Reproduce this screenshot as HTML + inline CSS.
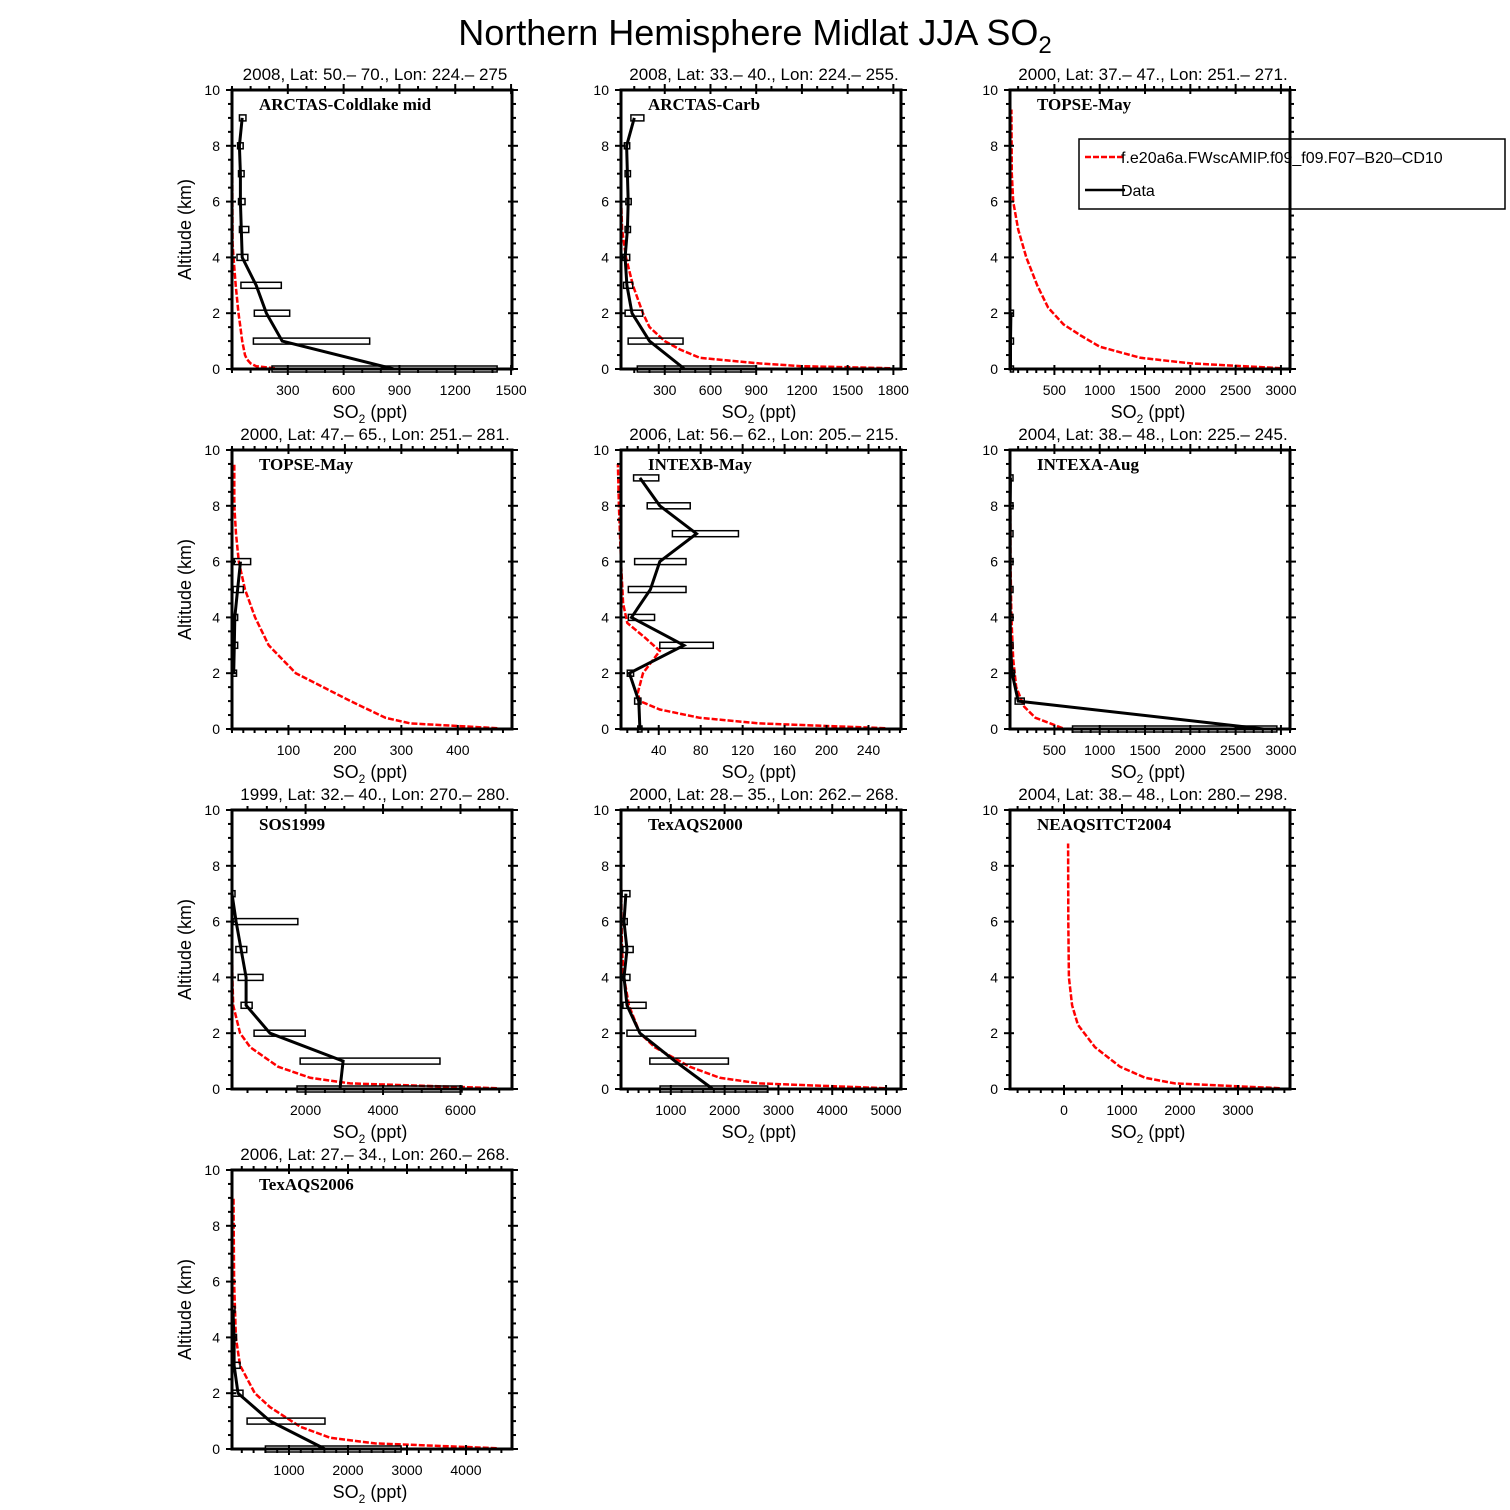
<!DOCTYPE html>
<html><head><meta charset="utf-8"><style>
html,body{margin:0;padding:0;background:#fff;}
svg{display:block;font-family:"Liberation Sans",sans-serif;}
</style></head><body>
<svg id="fig" width="1510" height="1510" viewBox="0 0 1510 1510" xmlns="http://www.w3.org/2000/svg">
<text x="755" y="45" text-anchor="middle" font-size="36" font-weight="300">Northern Hemisphere Midlat JJA SO<tspan font-size="24" dy="8">2</tspan></text>
</svg>
<script>
// Shared altitude levels for observations
const obsAlt = [0,1,2,3,4,5,6,7,8,9];
// Panel 1
const p1Mean=[870,270,185,130,55,50,45,45,40,55];
const p1Lo=[215,115,120,48,27,40,35,35,30,40];
const p1Hi=[1425,740,310,265,85,90,70,65,60,75];
const p1ModAlt=[0.03,0.1,0.2,0.35,0.5,1,1.5,2,3,4,4.5,6,8,9.5];
const p1Mod=[230,130,100,80,70,55,45,35,20,8,3,2,1,1];
// Panel 2
const p2Mean=[430,200,85,52,40,55,60,55,50,100];
const p2Lo=[120,60,40,30,25,40,45,40,35,78];
const p2Hi=[900,420,155,90,70,75,80,75,70,163];
const p2ModAlt=[0.03,0.1,0.2,0.4,0.7,1,1.5,2,3,4,5,6,8,9.5];
const p2Mod=[1780,1200,920,530,400,300,200,157,91,46,20,14,12,12];
// Panel 3
const p3ObsAlt=[0,1,2];
const p3Mean=[15,15,20];
const p3Lo=[15,15,15];
const p3Hi=[15,15,30];
const p3ModAlt=[0.03,0.2,0.4,0.8,1.2,1.6,2.2,3,4,5,6,7,9.3];
const p3Mod=[3000,2010,1450,1000,790,600,430,310,190,100,45,30,25];
// Panel 4
const p4ObsAlt=[2,3,4,5,6];
const p4Mean=[3,4,5,10,15];
const p4Lo=[1,1,1,2,4];
const p4Hi=[8,10,10,20,33];
const p4ModAlt=[0.03,0.2,0.4,1,2,3,4,5,6,7,8,9.5];
const p4Mod=[470,316,272,210,113,65,41,23,12,7,4,4];
// Panel 5
const p5Mean=[22,21,12,64,14,32,41,76,41,22];
const p5Lo=[20,17,10,41,11,11,17,53,29,16];
const p5Hi=[24,23,16,92,36,66,66,116,70,40];
const p5ModAlt=[0.03,0.2,0.4,0.7,1,1.3,2,2.8,3.3,3.8,4.5,6,8,9.5];
const p5Mod=[256,136,79,41,22,20,25,41,26,10,6,4,2,1];
// Panel 6
const p6Mean=[2810,100,33,15,12,12,12,12,12,15];
const p6Lo=[700,67,10,10,8,8,8,8,8,10];
const p6Hi=[2955,167,60,20,16,16,16,16,16,20];
const p6ModAlt=[0.03,0.2,0.4,0.8,1.5,2.5,4,6,9];
const p6Mod=[590,455,290,167,78,45,25,15,12];
// Panel 7
const p7ObsAlt=[0,1,2,3,4,5,6,7];
const p7Mean=[2890,2970,1080,465,465,335,206,100];
const p7Lo=[1780,1860,670,335,260,200,130,100];
const p7Hi=[6040,5470,1990,620,900,480,1800,100];
const p7ModAlt=[0.03,0.2,0.4,0.8,1.5,2,3,4,6,9];
const p7Mod=[6940,3150,2120,1290,570,310,130,110,100,100];
// Panel 8
const p8ObsAlt=[0,1,2,3,4,5,6,7];
const p8Mean=[1780,1075,425,185,130,185,130,165];
const p8Lo=[800,610,185,110,95,110,75,95];
const p8Hi=[2800,2070,1460,540,240,300,190,240];
const p8ModAlt=[0.03,0.2,0.4,0.8,1.5,2,3,4,5,7,9];
const p8Mod=[4980,2650,1910,1350,700,425,220,130,90,80,75];
// Panel 9
const p9ModAlt=[0.03,0.2,0.4,0.8,1.5,2.3,3,4,6,8.8];
const p9Mod=[3720,1910,1400,965,535,240,140,85,75,70];
// Panel 10
const p10ObsAlt=[0,1,2,3,4,5];
const p10Mean=[1610,680,135,70,70,50];
const p10Lo=[600,290,35,35,40,30];
const p10Hi=[2900,1610,220,170,110,70];
const p10ModAlt=[0.03,0.2,0.4,0.8,1.5,2,3,4,6,9];
const p10Mod=[4520,2460,1700,1190,680,420,170,100,70,60];
// Tick labels
const p1Ticks=[300,600,900,1200,1500];
const p2Ticks=[300,600,900,1200,1500,1800];
const p3Ticks=[500,1000,1500,2000,2500,3000];
const p4Ticks=[100,200,300,400];
const p5Ticks=[40,80,120,160,200,240];
const p6Ticks=[500,1000,1500,2000,2500,3000];
const p7Ticks=[2000,4000,6000];
const p8Ticks=[1000,2000,3000,4000,5000];
const p9Ticks=[0,1000,2000,3000];
const p10Ticks=[1000,2000,3000,4000];
const yTicks=[0,2,4,6,8,10];

const NS="http://www.w3.org/2000/svg";
const svg=document.getElementById('fig');
function mk(tag,attrs,parent){const e=document.createElementNS(NS,tag);for(const k in attrs)e.setAttribute(k,attrs[k]);(parent||svg).appendChild(e);return e;}

const panels=[
 {col:0,row:0,dom:[0,1505],minor:100,title:"2008, Lat:  50.\u2013 70., Lon: 224.\u2013 275",name:"ARCTAS-Coldlake mid",alt:obsAlt,mean:p1Mean,lo:p1Lo,hi:p1Hi,malt:p1ModAlt,mod:p1Mod,ticks:p1Ticks},
 {col:1,row:0,dom:[13,1850],minor:100,title:"2008, Lat:  33.\u2013 40., Lon: 224.\u2013 255.",name:"ARCTAS-Carb",alt:obsAlt,mean:p2Mean,lo:p2Lo,hi:p2Hi,malt:p2ModAlt,mod:p2Mod,ticks:p2Ticks},
 {col:2,row:0,dom:[10,3100],minor:100,title:"2000, Lat: 37.\u2013 47., Lon: 251.\u2013 271.",name:"TOPSE-May",alt:p3ObsAlt,mean:p3Mean,lo:p3Lo,hi:p3Hi,malt:p3ModAlt,mod:p3Mod,ticks:p3Ticks,legend:true},
 {col:0,row:1,dom:[0,496],minor:20,title:"2000, Lat: 47.\u2013 65., Lon: 251.\u2013 281.",name:"TOPSE-May",alt:p4ObsAlt,mean:p4Mean,lo:p4Lo,hi:p4Hi,malt:p4ModAlt,mod:p4Mod,ticks:p4Ticks},
 {col:1,row:1,dom:[4,271],minor:10,title:"2006, Lat: 56.\u2013 62., Lon: 205.\u2013 215.",name:"INTEXB-May",alt:obsAlt,mean:p5Mean,lo:p5Lo,hi:p5Hi,malt:p5ModAlt,mod:p5Mod,ticks:p5Ticks},
 {col:2,row:1,dom:[10,3100],minor:100,title:"2004, Lat: 38.\u2013 48., Lon: 225.\u2013 245.",name:"INTEXA-Aug",alt:obsAlt,mean:p6Mean,lo:p6Lo,hi:p6Hi,malt:p6ModAlt,mod:p6Mod,ticks:p6Ticks},
 {col:0,row:2,dom:[100,7330],minor:500,title:"1999, Lat: 32.\u2013 40., Lon: 270.\u2013 280.",name:"SOS1999",alt:p7ObsAlt,mean:p7Mean,lo:p7Lo,hi:p7Hi,malt:p7ModAlt,mod:p7Mod,ticks:p7Ticks},
 {col:1,row:2,dom:[74,5278],minor:200,title:"2000, Lat: 28.\u2013 35., Lon: 262.\u2013 268.",name:"TexAQS2000",alt:p8ObsAlt,mean:p8Mean,lo:p8Lo,hi:p8Hi,malt:p8ModAlt,mod:p8Mod,ticks:p8Ticks},
 {col:2,row:2,dom:[-931,3897],minor:200,title:"2004, Lat: 38.\u2013 48., Lon: 280.\u2013 298.",name:"NEAQSITCT2004",alt:[],mean:[],lo:[],hi:[],malt:p9ModAlt,mod:p9Mod,ticks:p9Ticks},
 {col:0,row:3,dom:[34,4780],minor:200,title:"2006, Lat: 27.\u2013 34., Lon: 260.\u2013 268.",name:"TexAQS2006",alt:p10ObsAlt,mean:p10Mean,lo:p10Lo,hi:p10Hi,malt:p10ModAlt,mod:p10Mod,ticks:p10Ticks}
];
const colX=[232,621,1010], rowY=[90,450,810,1170], W=280, H=279;

panels.forEach((p,i)=>{
 const x0=colX[p.col], y0=rowY[p.row];
 const g=mk('g',{});
 
 
 const xs=v=>x0+(v-p.dom[0])/(p.dom[1]-p.dom[0])*W;
 const ys=a=>y0+H-a/10*H;
 const t=mk('text',{x:x0+W/2+3,y:y0-10,'text-anchor':'middle','font-size':17},g);
 t.textContent=p.title;
 
 
 const pts=p.malt.map((a,k)=>xs(p.mod[k]).toFixed(1)+','+ys(a).toFixed(1)).join(' ');
 const ml=mk('polyline',{points:pts,fill:'none',stroke:'#f00','stroke-width':2.5,'stroke-dasharray':'6,2'},g);
 
 
 p.alt.forEach((a,k)=>{
  const l=Math.max(xs(p.lo[k]),x0), r=xs(p.hi[k]);
  const b=mk('rect',{x:l,y:ys(a)-3,width:Math.max(r-l,3),height:6,fill:'none',stroke:'#000','stroke-width':1.5},g);
  
  
 });
 if(p.alt.length){
  const dp=p.alt.map((a,k)=>xs(p.mean[k]).toFixed(1)+','+ys(a).toFixed(1)).join(' ');
  const dl=mk('polyline',{points:dp,fill:'none',stroke:'#000','stroke-width':3},g);
  
  
 }
 const fr=mk('rect',{x:x0,y:y0,width:W,height:H,fill:'none',stroke:'#000','stroke-width':3},g);
 
 
 for(let a=0;a<=10;a+=0.5){
  const maj=(a%2===0), len=maj?6:4, y=ys(a);
  mk('line',{x1:x0-len,x2:x0+(maj?4:0),y1:y,y2:y,stroke:'#000','stroke-width':2},g);
  mk('line',{x1:x0+W+len,x2:x0+W-(maj?4:0),y1:y,y2:y,stroke:'#000','stroke-width':2},g);
 }
 yTicks.forEach(a=>{
  const tl=mk('text',{x:x0-12,y:ys(a)+5,'text-anchor':'end','font-size':14},g);
  tl.textContent=a;
  
  
 });
 const st=Math.ceil(p.dom[0]/p.minor)*p.minor;
 for(let v=st;v<=p.dom[1];v+=p.minor){
  const x=xs(v), maj=p.ticks.includes(v);
  const len=maj?6:4;
  mk('line',{x1:x,x2:x,y1:y0+H+len,y2:y0+H-(maj?4:0),stroke:'#000','stroke-width':2},g);
  mk('line',{x1:x,x2:x,y1:y0-len,y2:y0+(maj?4:0),stroke:'#000','stroke-width':2},g);
 }
 p.ticks.forEach(v=>{
  const tl=mk('text',{x:xs(v),y:y0+H+26,'text-anchor':'middle','font-size':14},g);
  tl.textContent=v;
  
  
 });
 const xl=mk('text',{x:x0+W/2-2,y:y0+H+49,'text-anchor':'middle','font-size':18},g);
 xl.innerHTML='SO<tspan font-size="12" dy="5">2</tspan><tspan dy="-5"> (ppt)</tspan>';
 
 
 if(p.col===0){
  const yl=mk('text',{x:0,y:0,'text-anchor':'middle','font-size':18,transform:'translate(191,'+(y0+H/2)+') rotate(-90)'},g);
  yl.textContent='Altitude (km)';
  
  
 }
 const nm=mk('text',{x:x0+27,y:y0+20,'font-size':17,'font-weight':'bold','font-family':'"Liberation Serif",serif'},g);
 nm.textContent=p.name;
 
 
 if(p.legend){
  const lg=mk('g',{},g);
  
  
  mk('rect',{x:1079,y:139,width:426,height:70,fill:'#fff',stroke:'#000','stroke-width':1.5},lg);
  mk('line',{x1:1085,x2:1125,y1:157,y2:157,stroke:'#f00','stroke-width':2.5,'stroke-dasharray':'6,2'},lg);
  const e1=mk('text',{x:1121,y:163,'font-size':16},lg);
  e1.textContent='f.e20a6a.FWscAMIP.f09_f09.F07\u2013B20\u2013CD10';
  
  
  mk('line',{x1:1085,x2:1125,y1:190,y2:190,stroke:'#000','stroke-width':2.5},lg);
  const e2=mk('text',{x:1121,y:196,'font-size':16},lg);
  e2.textContent='Data';
  
  
  mk('line',{x1:x0+W,x2:x0+W,y1:y0,y2:y0+H,stroke:'#000','stroke-width':3},g);
 }
});
</script>
</body></html>
